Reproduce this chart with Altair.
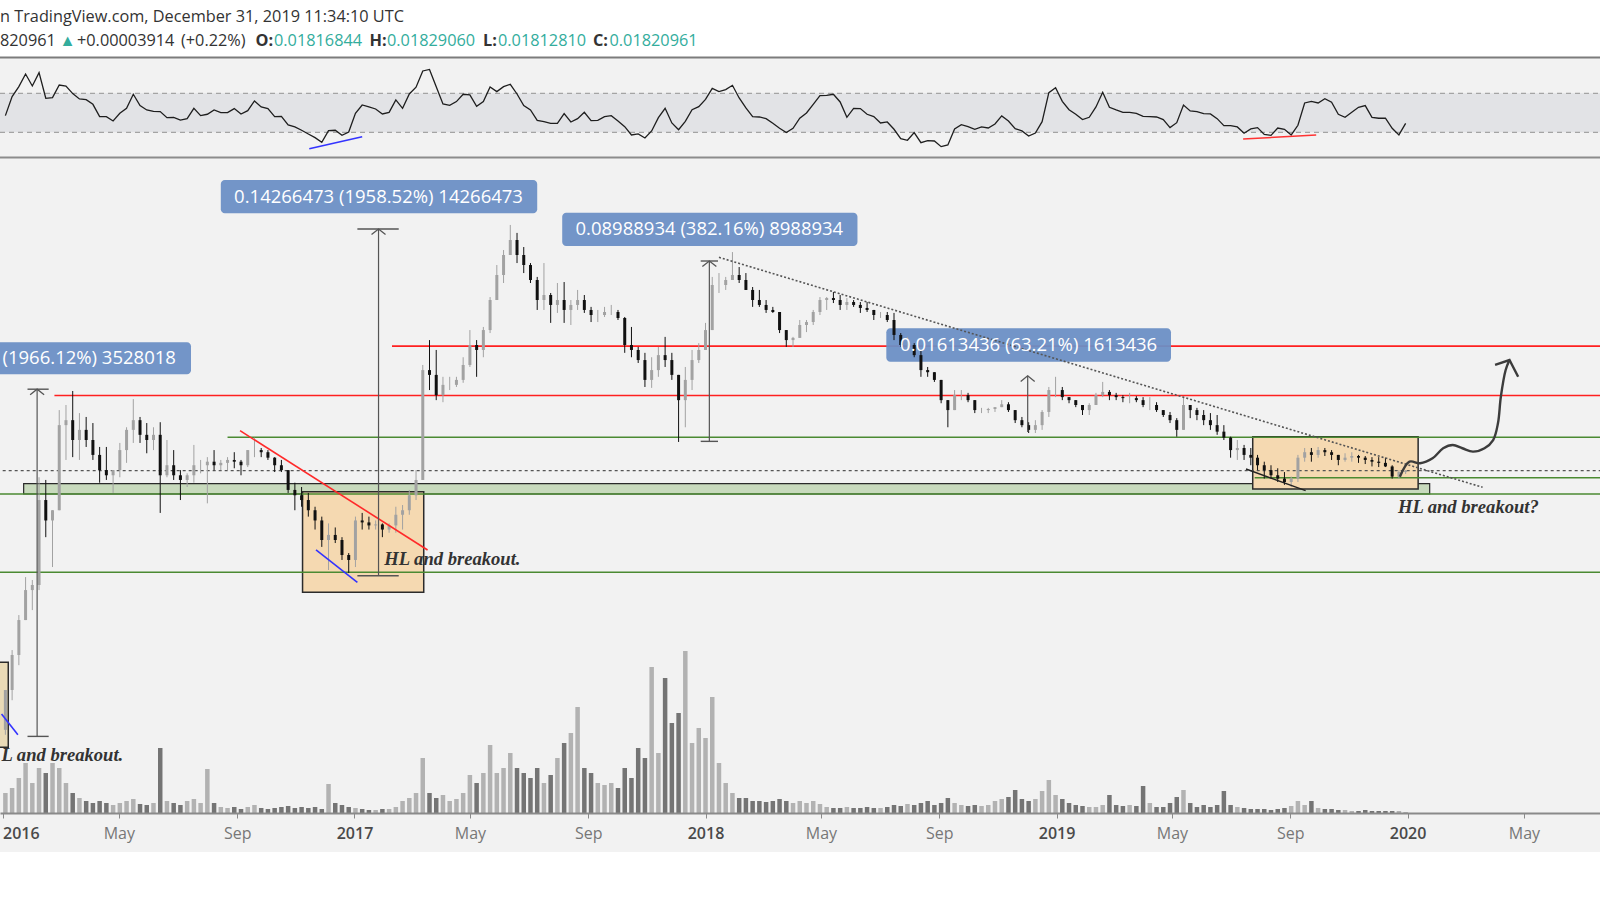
import altair as alt
import numpy as np
import pandas as pd

# ---------------- data (ETH/BTC, weekly) ----------------
week_start = "2016-01-04"
first_open = 0.00190
close = [0.00269, 0.00365, 0.00495, 0.00643, 0.00672, 0.0141, 0.0118, 0.0129, 0.0271, 0.0283,
         0.0238, 0.0260, 0.0238, 0.0209, 0.0183, 0.0175, 0.0183, 0.0218, 0.0260, 0.0283,
         0.0249, 0.0238, 0.0249, 0.0175, 0.0191, 0.0175, 0.0168, 0.0175, 0.0191, 0.0191,
         0.0197, 0.0191, 0.0195, 0.0200, 0.0197, 0.0191, 0.0218, 0.0218, 0.0214, 0.0204,
         0.0191, 0.0183, 0.0154, 0.0147, 0.0141, 0.0129, 0.0118, 0.00995, 0.0104, 0.00995,
         0.00873, 0.00836, 0.0118, 0.0116, 0.0113, 0.0114, 0.0109, 0.0113, 0.0124, 0.0129,
         0.0147, 0.0168, 0.0438, 0.0420, 0.0352, 0.0385, 0.0385, 0.0402, 0.0458, 0.0545,
         0.0522, 0.0621, 0.0807, 0.1004, 0.1195, 0.1362, 0.1195, 0.1095, 0.0961, 0.0807,
         0.0843, 0.0773, 0.0807, 0.0740, 0.0773, 0.0807, 0.0740, 0.0708, 0.0708, 0.0727,
         0.0727, 0.0690, 0.0545, 0.0522, 0.0478, 0.0402, 0.0438, 0.0499, 0.0478, 0.0420,
         0.0337, 0.0402, 0.0478, 0.0522, 0.0621, 0.0920, 0.0920, 0.0961, 0.1004, 0.0961,
         0.0881, 0.0807, 0.0773, 0.0740, 0.0727, 0.0621, 0.0569, 0.0580, 0.0649, 0.0666,
         0.0727, 0.0807, 0.0821, 0.0807, 0.0773, 0.0793, 0.0773, 0.0753, 0.0740, 0.0708,
         0.0708, 0.0678, 0.0595, 0.0545, 0.0545, 0.0499, 0.0438, 0.0430, 0.0402, 0.0337,
         0.0309, 0.0352, 0.0352, 0.0337, 0.0309, 0.0309, 0.0312, 0.0317, 0.0325, 0.0309,
         0.0283, 0.0271, 0.0260, 0.0271, 0.0304, 0.0368, 0.0368, 0.0346, 0.0337, 0.0323,
         0.0309, 0.0323, 0.0352, 0.0362, 0.0352, 0.0346, 0.0343, 0.0343, 0.0337, 0.0323,
         0.0323, 0.0309, 0.0296, 0.0283, 0.0260, 0.0323, 0.0309, 0.0296, 0.0283, 0.0271,
         0.0256, 0.0243, 0.0218, 0.0222, 0.0209, 0.0204, 0.0191, 0.0183, 0.0175, 0.0170,
         0.0165, 0.0170, 0.0204, 0.0214, 0.0209, 0.0218, 0.0214, 0.0209, 0.0200, 0.0204,
         0.0207, 0.0204, 0.0200, 0.0197, 0.0195, 0.0189, 0.0173, 0.0180, 0.01821]
high = [0.00269, 0.00381, 0.00517, 0.00720, 0.00702, 0.0172, 0.0168, 0.0129, 0.0309, 0.0323,
        0.0365, 0.0301, 0.0291, 0.0276, 0.0224, 0.0224, 0.0183, 0.0232, 0.0266, 0.0340,
        0.0291, 0.0276, 0.0266, 0.0278, 0.0238, 0.0218, 0.0183, 0.0178, 0.0228, 0.0200,
        0.0205, 0.0218, 0.0200, 0.0205, 0.0214, 0.0200, 0.0218, 0.0243, 0.0222, 0.0218,
        0.0205, 0.0200, 0.0183, 0.0164, 0.0158, 0.0150, 0.0133, 0.0122, 0.0115, 0.0111,
        0.0102, 0.00888, 0.0122, 0.0126, 0.0122, 0.0118, 0.0115, 0.0115, 0.0133, 0.0135,
        0.0154, 0.0183, 0.0458, 0.0569, 0.0522, 0.0413, 0.0413, 0.0413, 0.0490, 0.0621,
        0.0569, 0.0638, 0.0828, 0.1095, 0.1248, 0.1553, 0.1449, 0.1281, 0.1114, 0.0987,
        0.1114, 0.0858, 0.0936, 0.0944, 0.0807, 0.0881, 0.0843, 0.0760, 0.0740, 0.0760,
        0.0773, 0.0740, 0.0696, 0.0638, 0.0536, 0.0509, 0.0490, 0.0536, 0.0585, 0.0509,
        0.0378, 0.0450, 0.0522, 0.0554, 0.0661, 0.0987, 0.1021, 0.0987, 0.1226, 0.1076,
        0.1021, 0.0904, 0.0881, 0.0807, 0.0760, 0.0721, 0.0621, 0.0585, 0.0678, 0.0678,
        0.0740, 0.0828, 0.0828, 0.0866, 0.0843, 0.0821, 0.0807, 0.0793, 0.0793, 0.0740,
        0.0727, 0.0727, 0.0721, 0.0605, 0.0585, 0.0554, 0.0522, 0.0450, 0.0427, 0.0402,
        0.0317, 0.0368, 0.0368, 0.0359, 0.0337, 0.0315, 0.0315, 0.0317, 0.0337, 0.0331,
        0.0309, 0.0291, 0.0278, 0.0283, 0.0309, 0.0378, 0.0413, 0.0378, 0.0346, 0.0337,
        0.0323, 0.0328, 0.0359, 0.0395, 0.0368, 0.0359, 0.0352, 0.0359, 0.0349, 0.0346,
        0.0346, 0.0331, 0.0309, 0.0304, 0.0288, 0.0346, 0.0323, 0.0315, 0.0309, 0.0301,
        0.0296, 0.0271, 0.0245, 0.0238, 0.0228, 0.0222, 0.0209, 0.0197, 0.0191, 0.0186,
        0.0180, 0.0173, 0.0209, 0.0222, 0.0222, 0.0224, 0.0222, 0.0218, 0.0209, 0.0212,
        0.0214, 0.0209, 0.0207, 0.0205, 0.0205, 0.0204, 0.0191, 0.0183, 0.0183]
low = [0.00182, 0.00246, 0.00334, 0.00495, 0.00540, 0.00643, 0.0102, 0.00786, 0.0129, 0.0200,
       0.0205, 0.0200, 0.0224, 0.0200, 0.0164, 0.0168, 0.0150, 0.0172, 0.0195, 0.0232,
       0.0232, 0.0212, 0.0218, 0.0126, 0.0172, 0.0168, 0.0141, 0.0158, 0.0164, 0.0178,
       0.0137, 0.0183, 0.0183, 0.0183, 0.0186, 0.0175, 0.0188, 0.0205, 0.0205, 0.0200,
       0.0180, 0.0180, 0.0150, 0.0129, 0.0133, 0.0122, 0.0109, 0.00937, 0.00766, 0.00969,
       0.00836, 0.00746, 0.00786, 0.0109, 0.0109, 0.0109, 0.0102, 0.0106, 0.0106, 0.0109,
       0.0124, 0.0141, 0.0168, 0.0368, 0.0337, 0.0331, 0.0368, 0.0378, 0.0392, 0.0450,
       0.0413, 0.0490, 0.0605, 0.0828, 0.0936, 0.1281, 0.1114, 0.1021, 0.0936, 0.0740,
       0.0740, 0.0661, 0.0721, 0.0661, 0.0649, 0.0740, 0.0721, 0.0666, 0.0666, 0.0696,
       0.0708, 0.0678, 0.0509, 0.0490, 0.0466, 0.0378, 0.0375, 0.0413, 0.0450, 0.0402,
       0.0234, 0.0266, 0.0368, 0.0466, 0.0536, 0.0678, 0.0858, 0.0881, 0.0961, 0.0936,
       0.0881, 0.0760, 0.0760, 0.0721, 0.0721, 0.0605, 0.0536, 0.0536, 0.0585, 0.0610,
       0.0649, 0.0708, 0.0740, 0.0786, 0.0740, 0.0740, 0.0760, 0.0721, 0.0727, 0.0678,
       0.0690, 0.0666, 0.0569, 0.0536, 0.0522, 0.0490, 0.0413, 0.0413, 0.0395, 0.0328,
       0.0266, 0.0309, 0.0337, 0.0331, 0.0301, 0.0301, 0.0301, 0.0304, 0.0317, 0.0304,
       0.0276, 0.0266, 0.0253, 0.0253, 0.0260, 0.0291, 0.0346, 0.0337, 0.0328, 0.0317,
       0.0296, 0.0296, 0.0328, 0.0346, 0.0337, 0.0337, 0.0331, 0.0328, 0.0331, 0.0317,
       0.0309, 0.0304, 0.0291, 0.0276, 0.0245, 0.0260, 0.0288, 0.0283, 0.0271, 0.0260,
       0.0249, 0.0238, 0.0204, 0.0200, 0.0200, 0.0191, 0.0183, 0.0170, 0.0170, 0.0165,
       0.0161, 0.0158, 0.0165, 0.0197, 0.0197, 0.0204, 0.0207, 0.0200, 0.0191, 0.0197,
       0.0197, 0.0195, 0.0193, 0.0189, 0.0188, 0.0188, 0.0170, 0.0170, 0.0177]
volume = [20, 25, 35, 50, 30, 45, 40, 50, 45, 30, 20, 15, 12, 10, 12, 10, 8, 10, 12, 14,
          9, 8, 10, 65, 12, 10, 8, 12, 14, 10, 44, 10, 6, 5, 6, 4, 6, 8, 5, 4,
          5, 6, 7, 5, 6, 5, 6, 4, 29, 10, 8, 6, 5, 4, 3, 3, 4, 4, 6, 12,
          15, 20, 55, 20, 15, 18, 12, 14, 20, 38, 30, 40, 68, 40, 45, 60, 45, 40, 35, 45,
          30, 38, 55, 70, 80, 106, 45, 40, 30, 28, 30, 25, 45, 35, 65, 55, 146, 60, 135, 90,
          100, 162, 70, 85, 75, 116, 50, 30, 20, 15, 15, 12, 12, 11, 12, 14, 12, 10, 12, 10,
          12, 9, 6, 5, 5, 6, 5, 5, 6, 5, 5, 6, 8, 7, 9, 8, 10, 12, 8, 10,
          15, 10, 8, 7, 8, 7, 8, 12, 14, 16, 23, 14, 12, 14, 22, 33, 18, 14, 10, 8,
          7, 6, 6, 8, 18, 8, 7, 8, 7, 27, 10, 6, 6, 10, 16, 23, 10, 6, 8, 6,
          8, 22, 8, 6, 5, 4, 4, 4, 3, 4, 5, 7, 12, 8, 12, 5, 4, 4, 3, 3,
          2, 2, 3, 2, 2, 2, 2, 2, 1]
rsi = [47.1, 66.6, 76.8, 89.8, 77.5, 91.2, 64.9, 65.6, 78.5, 77.5,
       69.7, 64.2, 63.5, 58.7, 46.1, 46.1, 41.6, 49.5, 54.6, 69.0,
       57.4, 52.9, 51.5, 51.2, 45.0, 45.4, 42.6, 44.0, 54.6, 47.1,
       48.5, 52.9, 50.2, 50.2, 54.3, 48.8, 52.2, 62.1, 56.0, 54.3,
       46.1, 46.4, 37.5, 35.5, 32.1, 28.3, 24.5, 19.7, 31.7, 32.1,
       26.9, 30.3, 49.5, 58.0, 56.0, 53.9, 48.8, 50.5, 63.2, 54.6,
       69.3, 76.2, 92.9, 94.5, 76.8, 59.1, 57.7, 61.5, 69.0, 68.3,
       56.7, 61.5, 76.5, 71.7, 76.8, 79.2, 69.3, 57.4, 52.9, 42.3,
       40.9, 39.2, 39.2, 49.1, 40.6, 44.0, 50.5, 42.0, 42.3, 46.1,
       47.1, 41.6, 35.8, 27.3, 28.3, 24.2, 31.4, 45.0, 54.6, 39.6,
       32.7, 41.3, 53.2, 56.3, 63.8, 75.1, 71.7, 73.8, 78.2, 65.2,
       55.0, 46.1, 45.7, 44.0, 39.2, 34.1, 29.7, 34.1, 44.4, 49.8,
       58.7, 67.6, 67.9, 69.0, 61.1, 45.4, 54.6, 54.3, 48.5, 46.1,
       39.6, 40.6, 33.1, 23.5, 21.8, 29.7, 19.4, 21.5, 21.1, 15.3,
       17.0, 33.4, 37.9, 35.8, 33.1, 35.5, 34.4, 38.5, 46.8, 41.6,
       33.8, 31.4, 26.2, 29.3, 40.9, 70.7, 75.8, 61.8, 53.2, 48.5,
       43.0, 45.4, 56.0, 71.0, 55.6, 52.9, 50.5, 50.5, 49.5, 46.4,
       46.1, 45.7, 43.0, 34.8, 39.9, 58.0, 51.9, 51.2, 49.1, 48.8,
       44.0, 36.8, 36.8, 35.5, 29.0, 33.4, 34.8, 27.9, 26.9, 34.4,
       33.1, 27.3, 37.2, 60.1, 61.8, 60.1, 64.5, 60.8, 48.5, 45.4,
       50.5, 55.6, 57.4, 45.4, 44.4, 44.4, 34.1, 27.3, 39.2]

# ---- drawings on the chart (TradingView tools) ----
red_start = ["2017-02-09", "2016-02-24"]
red_price = [0.0540, 0.0351]
green_start = ["2016-08-22", "2015-12-01", "2015-12-01", "2019-07-26"]
green_price = [0.02437, 0.01486, 0.007508, 0.01713]
lines_end = "2020-09-01"

band = dict(d0="2016-01-23", d1="2020-01-24", p0=0.01486, p1=0.01628)
box_d0 = ["2016-11-08", "2019-07-24"]
box_d1 = ["2017-03-14", "2020-01-12"]
box_p0 = [0.006306, 0.01553]
box_p1 = [0.01517, 0.02450]
small_box = dict(d0="2015-12-20", d1="2016-01-07", p0=0.001632, p1=0.003424)

meas_date = ["2016-02-06", "2017-01-26", "2018-01-05", "2018-12-02"]
meas_from = [0.0017944, 0.0072843, 0.0235214, 0.0255251]
meas_to = [0.0370746, 0.1499490, 0.1134107, 0.0416595]
cap_d0 = ["2016-01-27", "2017-01-04", "2017-12-27"]
cap_d1 = ["2016-02-18", "2017-02-16", "2018-01-14"]

lab_d0 = ["2015-08-27", "2016-08-15", "2017-08-05", "2018-07-08"]
lab_d1 = ["2016-07-15", "2017-07-10", "2018-06-08", "2019-04-30"]
lab_p0 = [0.0422, 0.1719, 0.1293, 0.0471]
lab_p1 = [0.0558, 0.2298, 0.1728, 0.0631]
lab_text = ["0.14266473 (1958.52%) 14266473", "0.08988934 (382.16%) 8988934",
            "0.01613436 (63.21%) 1613436"]
lab_tdate = ["2017-01-26", "2018-01-05", "2018-12-03"]
lab_tprice = [0.1988, 0.1496, 0.0545]
labA_text = "(1966.12%) 3528018"

trend = {
    "red": (["2016-09-04", "2017-03-18"], [0.02582, 0.009121]),
    "blue1": (["2016-11-22", "2017-01-04"], [0.009121, 0.006882]),
    "blue0": (["2015-12-31", "2016-01-17"], [0.002182, 0.001822]),
    "black": (["2019-07-17", "2019-09-17"], [0.01848, 0.01530]),
    "dotted": (["2018-01-15", "2020-03-19"], [0.1171, 0.01576]),
}
rsi_div = {"blue": (["2016-11-15", "2017-01-09"], [13.2, 25.5]),
           "red": (["2019-07-14", "2019-09-28"], [23.1, 27.2])}

curve_date = ["2019-12-24", "2020-01-03", "2020-01-14", "2020-01-27", "2020-02-07",
              "2020-02-17", "2020-02-27", "2020-03-09", "2020-03-21", "2020-03-30",
              "2020-04-04", "2020-04-07", "2020-04-12", "2020-04-16"]
curve_price = [0.01728, 0.01970, 0.01943, 0.02029, 0.02215, 0.02279, 0.02215, 0.02150,
               0.02215, 0.02380, 0.02754, 0.03472, 0.04384, 0.04782]
head_date = ["2020-04-01", "2020-04-16", "2020-04-25"]
head_price = [0.0458, 0.04782, 0.04134]

notes = [("HL and breakout.", "2017-02-01", 0.00843),
         ("HL and breakout?", "2019-12-22", 0.01327),
         ("L and breakout.", "2015-12-31", 0.001526)]

tick_dates = ["2016-01-01", "2016-05-01", "2016-09-01", "2017-01-01", "2017-05-01",
              "2017-09-01", "2018-01-01", "2018-05-01", "2018-09-01", "2019-01-01",
              "2019-05-01", "2019-09-01", "2020-01-01", "2020-05-01"]

# ---------------- frames ----------------
n = len(close)
dates = pd.date_range(week_start, periods=n, freq="7D").strftime("%Y-%m-%d")
df = pd.DataFrame({"date": dates, "open": [first_open] + close[:-1], "close": close,
                   "high": high, "low": low, "volume": volume, "rsi": rsi})
df["up"] = df["close"] >= df["open"]
df["hi"] = df[["high", "open", "close"]].max(axis=1)
df["lo"] = df[["low", "open", "close"]].min(axis=1)
df["ccol"] = np.where(df["up"], "#a2a2a2", "#111111")
df["vcol"] = np.where(df["up"], "#b2b2b2", "#747474")


def ms(s):
    return int(pd.Timestamp(s, tz="UTC").timestamp() * 1000)


XS = alt.Scale(type="utc", domain=[ms("2015-12-29 09:36"), ms("2020-07-19 02:24")])
cond = "utcmonth(datum.value) == 0"
first = f"datum.value < {ms('2016-02-01')}"
XAXIS = alt.Axis(values=[ms(d) for d in tick_dates], title=None, grid=False, zindex=2,
                 labelExpr=f"{cond} ? utcFormat(datum.value, '%Y') : utcFormat(datum.value, '%b')",
                 labelFont="Open Sans", labelFontSize=16, labelFlush=False, labelOverlap=False,
                 labelBound=False, labelPadding=7,
                 labelAlign={"condition": {"test": first, "value": "left"}, "value": "center"},
                 labelColor={"condition": {"test": cond, "value": "#4a4a4a"}, "value": "#777777"},
                 labelFontWeight={"condition": {"test": cond, "value": 600}, "value": "normal"},
                 domainColor="#8a8a8a", domainWidth=2, tickColor="#8a8a8a", tickSize=5)
PS = alt.Scale(type="log", domain=[0.002, 0.2], range=[723.96, 195.96], nice=False, zero=False)
RS = alt.Scale(type="linear", domain=[30, 70], range=[132.3, 93.3], nice=False, zero=False)
VS = alt.Scale(type="linear", domain=[0, 100], range=[813, 713], nice=False, zero=False)


def X(f):
    return alt.X(f"{f}:T", scale=XS, axis=XAXIS)


def P(f):
    return alt.Y(f"{f}:Q", scale=PS, axis=None)


one = pd.DataFrame({"k": [0]})
layers = []


def pxrect(x1, x2, y1, y2, color):
    return alt.Chart(one).mark_rect(color=color).encode(
        x=alt.value(x1), x2=alt.value(x2), y=alt.value(y1), y2=alt.value(y2))


def pxrule(y, color, w):
    return alt.Chart(one).mark_rule(color=color, strokeWidth=w).encode(
        x=alt.value(0), x2=alt.value(1600), y=alt.value(y))


# backgrounds
layers.append(pxrect(0, 1600, 58, 852, "#f2f2f2"))
# RSI band
layers.append(alt.Chart(pd.DataFrame({"a": [30], "b": [70]})).mark_rect(color="#e2e3e6").encode(
    x=alt.value(0), x2=alt.value(1600), y=alt.Y("b:Q", scale=RS, axis=None), y2="a"))
layers.append(alt.Chart(pd.DataFrame({"lev": [30, 70]})).mark_rule(
    color="#a4a4a4", strokeDash=[5, 4], strokeWidth=1.2).encode(
    x=alt.value(0), x2=alt.value(1600), y=alt.Y("lev:Q", scale=RS, axis=None)))
layers.append(alt.Chart(df).mark_line(color="#1e1e1e", strokeWidth=1.3).encode(
    x=X("date"), y=alt.Y("rsi:Q", scale=RS, axis=None)))
for key, col in (("blue", "#3333ff"), ("red", "#ff3333")):
    d, v = rsi_div[key]
    layers.append(alt.Chart(pd.DataFrame({"d0": [d[0]], "d1": [d[1]], "v0": [v[0]], "v1": [v[1]]}))
                  .mark_rule(color=col, strokeWidth=1.6).encode(
        x=X("d0"), x2="d1:T", y=alt.Y("v0:Q", scale=RS, axis=None), y2="v1:Q"))
layers.append(pxrule(57.5, "#7c7c7c", 2))
layers.append(pxrule(157.5, "#8c8c8c", 2))

# band and boxes
layers.append(alt.Chart(pd.DataFrame([band])).mark_rect(
    fill="#c8dabd", stroke="#2a2a2a", strokeWidth=1.2).encode(
    x=X("d0"), x2="d1:T", y=P("p1"), y2="p0:Q"))
boxes = pd.DataFrame({"d0": box_d0, "d1": box_d1, "p0": box_p0, "p1": box_p1})
layers.append(alt.Chart(boxes).mark_rect(fill="#f5d9b1", stroke="#2b2b2b", strokeWidth=1.5).encode(
    x=X("d0"), x2="d1:T", y=P("p1"), y2="p0:Q"))
layers.append(alt.Chart(pd.DataFrame([small_box])).mark_rect(
    fill="#e9dab6", stroke="#2b2b2b", strokeWidth=1.5).encode(
    x=X("d0"), x2="d1:T", y=P("p1"), y2="p0:Q"))

# horizontal levels
reds = pd.DataFrame({"d0": red_start, "d1": lines_end, "p": red_price})
greens = pd.DataFrame({"d0": green_start, "d1": lines_end, "p": green_price})
layers.append(alt.Chart(greens).mark_rule(color="#4b8a32", strokeWidth=1.5).encode(
    x=X("d0"), x2="d1:T", y=P("p")))
layers.append(alt.Chart(reds).mark_rule(color="#ff2020", strokeWidth=1.6).encode(
    x=X("d0"), x2="d1:T", y=P("p")))
layers.append(alt.Chart(pd.DataFrame({"d0": ["2015-12-01"], "d1": [lines_end], "p": [close[-1]]}))
              .mark_rule(color="#555555", strokeDash=[3, 3], strokeWidth=1.2).encode(
    x=X("d0"), x2="d1:T", y=P("p")))

# label boxes
labs = pd.DataFrame({"d0": lab_d0, "d1": lab_d1, "p0": lab_p0, "p1": lab_p1})
layers.append(alt.Chart(labs).mark_rect(fill="#6b8fc5", cornerRadius=4, opacity=0.95).encode(
    x=X("d0"), x2="d1:T", y=P("p1"), y2="p0:Q"))

# volume
layers.append(alt.Chart(df).mark_rule(strokeWidth=4.5).encode(
    x=X("date"), y=alt.Y("volume:Q", scale=VS, axis=None), y2=alt.value(813),
    color=alt.Color("vcol:N", scale=None)))

# candles
layers.append(alt.Chart(df).mark_rule(strokeWidth=1).encode(
    x=X("date"), y=P("hi"), y2="lo:Q", color=alt.Color("ccol:N", scale=None)))
layers.append(alt.Chart(df).mark_rule(strokeWidth=3).encode(
    x=X("date"), y=P("open"), y2="close:Q", color=alt.Color("ccol:N", scale=None)))

# trend lines
styles = {"red": ("#ff2a2a", 1.6, None), "blue1": ("#3333ff", 1.6, None),
          "blue0": ("#3333ff", 1.6, None), "black": ("#222222", 1.4, None),
          "dotted": ("#555555", 1.6, [2, 2])}
for key, (d, p) in trend.items():
    col, w, dash = styles[key]
    kw = dict(color=col, strokeWidth=w)
    if dash:
        kw["strokeDash"] = dash
    layers.append(alt.Chart(pd.DataFrame({"d0": [d[0]], "d1": [d[1]], "p0": [p[0]], "p1": [p[1]]}))
                  .mark_rule(**kw).encode(x=X("d0"), x2="d1:T", y=P("p0"), y2="p1:Q"))

# measure tools
meas = pd.DataFrame({"d": meas_date, "p0": meas_from, "p1": meas_to})
caps = pd.DataFrame({"c0": cap_d0, "c1": cap_d1, "p0": meas_from[:3], "p1": meas_to[:3]})
layers.append(alt.Chart(meas).mark_rule(color="#555555", strokeWidth=1.2).encode(
    x=X("d"), y=P("p0"), y2="p1:Q"))
for f in ("p0", "p1"):
    layers.append(alt.Chart(caps).mark_rule(color="#555555", strokeWidth=1.4).encode(
        x=X("c0"), x2="c1:T", y=P(f)))
layers.append(alt.Chart(meas).mark_point(
    shape="M-1,0.8L0,0L1,0.8", filled=False, color="#555555", strokeWidth=1.3, size=196,
    opacity=1).encode(x=X("d"), y=P("p1")))

# hand drawn arrow
cv = pd.DataFrame({"d": curve_date, "p": curve_price, "k": range(len(curve_date))})
layers.append(alt.Chart(cv).mark_line(color="#3c3c3c", strokeWidth=2.4, interpolate="catmull-rom").encode(
    x=X("d"), y=P("p"), order="k:Q"))
hd = pd.DataFrame({"d": head_date, "p": head_price, "k": range(3)})
layers.append(alt.Chart(hd).mark_line(color="#3c3c3c", strokeWidth=2.4).encode(
    x=X("d"), y=P("p"), order="k:Q"))

# label texts
lt = pd.DataFrame({"t": lab_text, "d": lab_tdate, "p": lab_tprice})
layers.append(alt.Chart(lt).mark_text(font="Open Sans", fontSize=18.5, color="white",
                                      align="center", baseline="middle").encode(
    x=X("d"), y=P("p"), text="t:N"))
layers.append(alt.Chart(pd.DataFrame({"t": [labA_text], "d": ["2016-01-01"], "p": [0.04856]}))
              .mark_text(font="Open Sans", fontSize=18.5, color="white", align="left",
                         baseline="middle").encode(x=X("d"), y=P("p"), text="t:N"))

# notes
nt = pd.DataFrame(notes, columns=["t", "d", "p"])
layers.append(alt.Chart(nt).mark_text(font="Liberation Serif", fontStyle="italic", fontWeight="bold",
                                      fontSize=18.6, color="#333333", align="left",
                                      baseline="middle").encode(x=X("d"), y=P("p"), text="t:N"))

# header
TEAL = "#33ad9d"
DARK = "#333333"
header = [("n TradingView.com, December 31, 2019 11:34:10 UTC", 0, 17, DARK, "normal"),
          ("820961", 0, 41, DARK, "normal"),
          ("\u25B2", 59.5, 41, TEAL, "normal"),
          ("+0.00003914", 77, 41, DARK, "normal"),
          ("(+0.22%)", 181, 41, DARK, "normal"),
          ("O:", 255.5, 41, DARK, "bold"), ("0.01816844", 274, 41, TEAL, "normal"),
          ("H:", 369.5, 41, DARK, "bold"), ("0.01829060", 387, 41, TEAL, "normal"),
          ("L:", 483, 41, DARK, "bold"), ("0.01812810", 498, 41, TEAL, "normal"),
          ("C:", 593, 41, DARK, "bold"), ("0.01820961", 609.5, 41, TEAL, "normal")]
for t, x, y, c, w in header:
    layers.append(alt.Chart(pd.DataFrame({"t": [t]})).mark_text(
        font="Open Sans", fontSize=16.3, color=c, fontWeight=w, align="left",
        baseline="middle").encode(x=alt.value(x), y=alt.value(y), text="t:N"))

chart = alt.layer(*layers).resolve_scale(y="independent").properties(
    width=1600, height=813, background="white",
    autosize=alt.AutoSizeParams(type="none"),
    padding={"left": 0, "top": 0, "right": 0, "bottom": 87},
).configure_view(stroke=None)

chart.save("out.html", embed_options={"renderer": "svg", "actions": False})
